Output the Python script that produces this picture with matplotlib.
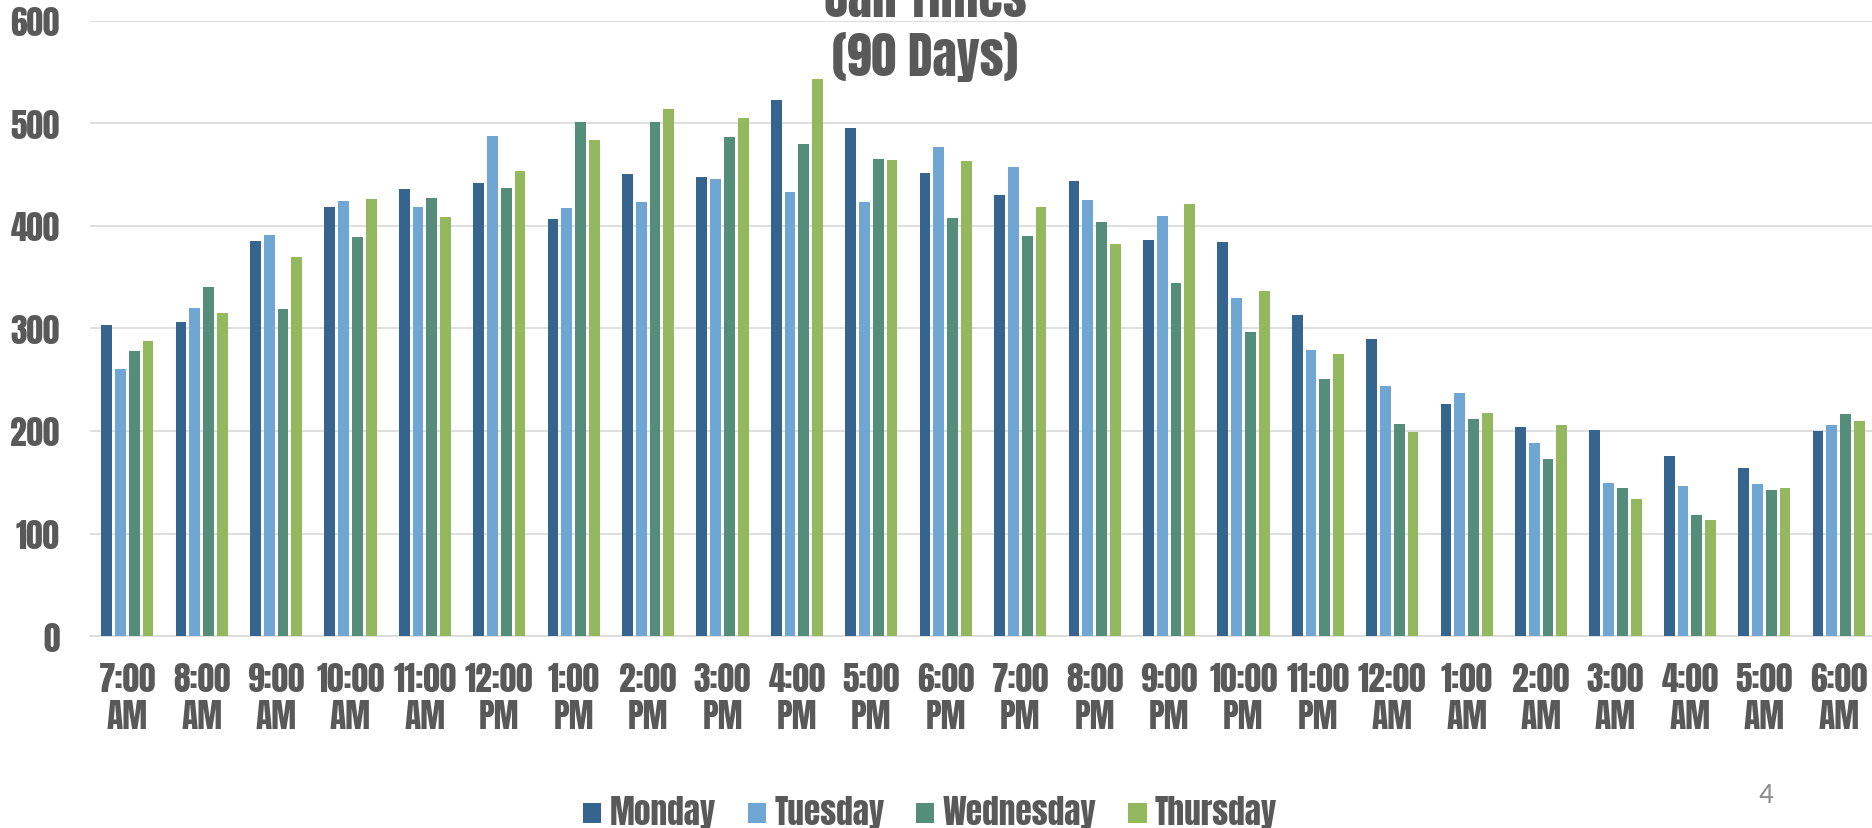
import matplotlib
matplotlib.use("Agg")
import matplotlib.pyplot as plt
from matplotlib.patches import Patch
import numpy as np

hours = ["7:00\nAM", "8:00\nAM", "9:00\nAM", "10:00\nAM", "11:00\nAM", "12:00\nPM",
         "1:00\nPM", "2:00\nPM", "3:00\nPM", "4:00\nPM", "5:00\nPM", "6:00\nPM",
         "7:00\nPM", "8:00\nPM", "9:00\nPM", "10:00\nPM", "11:00\nPM", "12:00\nAM",
         "1:00\nAM", "2:00\nAM", "3:00\nAM", "4:00\nAM", "5:00\nAM", "6:00\nAM"]
monday = [303, 306, 385, 419, 436, 442, 407, 451, 448, 523, 496, 452,
          430, 444, 386, 384, 313, 290, 226, 204, 201, 176, 164, 200]
tuesday = [260, 320, 391, 424, 419, 488, 418, 423, 446, 433, 423, 477,
           458, 425, 410, 330, 279, 244, 237, 188, 149, 146, 148, 206]
wednesday = [278, 340, 319, 389, 427, 437, 501, 501, 487, 480, 465, 408,
             390, 404, 344, 297, 251, 207, 212, 173, 144, 118, 142, 217]
thursday = [288, 315, 370, 426, 409, 454, 484, 514, 505, 543, 464, 463,
            419, 382, 421, 337, 275, 199, 218, 206, 134, 113, 144, 210]
series_names = ["Monday", "Tuesday", "Wednesday", "Thursday"]
series_values = [monday, tuesday, wednesday, thursday]
colors = ["#35658F", "#6FA6D4", "#548D79", "#94B85D"]
yticks = [0, 100, 200, 300, 400, 500, 600]
title = "Call Times\n(90 Days)"

FONT = ["Anton", "DejaVu Sans"]
TXT = "#595959"
GRID = "#D9D9D9"

fig = plt.figure(figsize=(18.72, 8.29), dpi=100)
ax = fig.add_axes([90 / 1872, 1 - 637 / 829, (1876 - 90) / 1872, (637 - 22) / 829])

x = np.arange(len(hours))
slot = 0.1855
for i, (name, vals, c) in enumerate(zip(series_names, series_values, colors)):
    ax.bar(x + (i - 1.5) * slot, vals, width=0.145, color=c, label=name, zorder=3)

ax.set_xlim(-0.5, len(hours) - 0.5)
ax.set_ylim(0, 600)
ax.set_yticks(yticks)
ax.set_yticklabels([str(v) for v in yticks])
ax.set_xticks(x)
ax.set_xticklabels(hours, linespacing=1.12)
ax.yaxis.grid(True, color=GRID, linewidth=1.2, zorder=0)
ax.set_axisbelow(True)
for s in ["top", "right", "left"]:
    ax.spines[s].set_visible(False)
ax.spines["bottom"].set_color(GRID)
ax.spines["bottom"].set_linewidth(1.2)
ax.tick_params(axis="both", length=0, colors=TXT)
ax.tick_params(axis="x", pad=19)
ax.tick_params(axis="y", pad=22)
for lab in ax.get_xticklabels() + ax.get_yticklabels():
    lab.set_fontfamily(FONT)
    lab.set_fontsize(24)
    lab.set_color(TXT)

fig.text(925 / 1872, 1 - 76 / 829, title, ha="center", va="baseline", family=FONT,
         fontsize=36, color=TXT, linespacing=1.2)

handles = [Patch(facecolor=c, edgecolor="none", label=n) for n, c in zip(series_names, colors)]
leg = fig.legend(handles=handles, loc="center", bbox_to_anchor=(930 / 1872, 1 - 813 / 829),
                 ncol=4, frameon=False, handlelength=0.55, handleheight=0.55,
                 handletextpad=0.25, columnspacing=0.95, borderpad=0,
                 prop={"family": FONT, "size": 24})
for t in leg.get_texts():
    t.set_color(TXT)

fig.text(1766 / 1872, 1 - 803 / 829, "4", ha="center", va="baseline",
         family=["Carlito", "DejaVu Sans"], fontsize=21, color="#8C8C8C")

fig.savefig("out.png", dpi=100)
